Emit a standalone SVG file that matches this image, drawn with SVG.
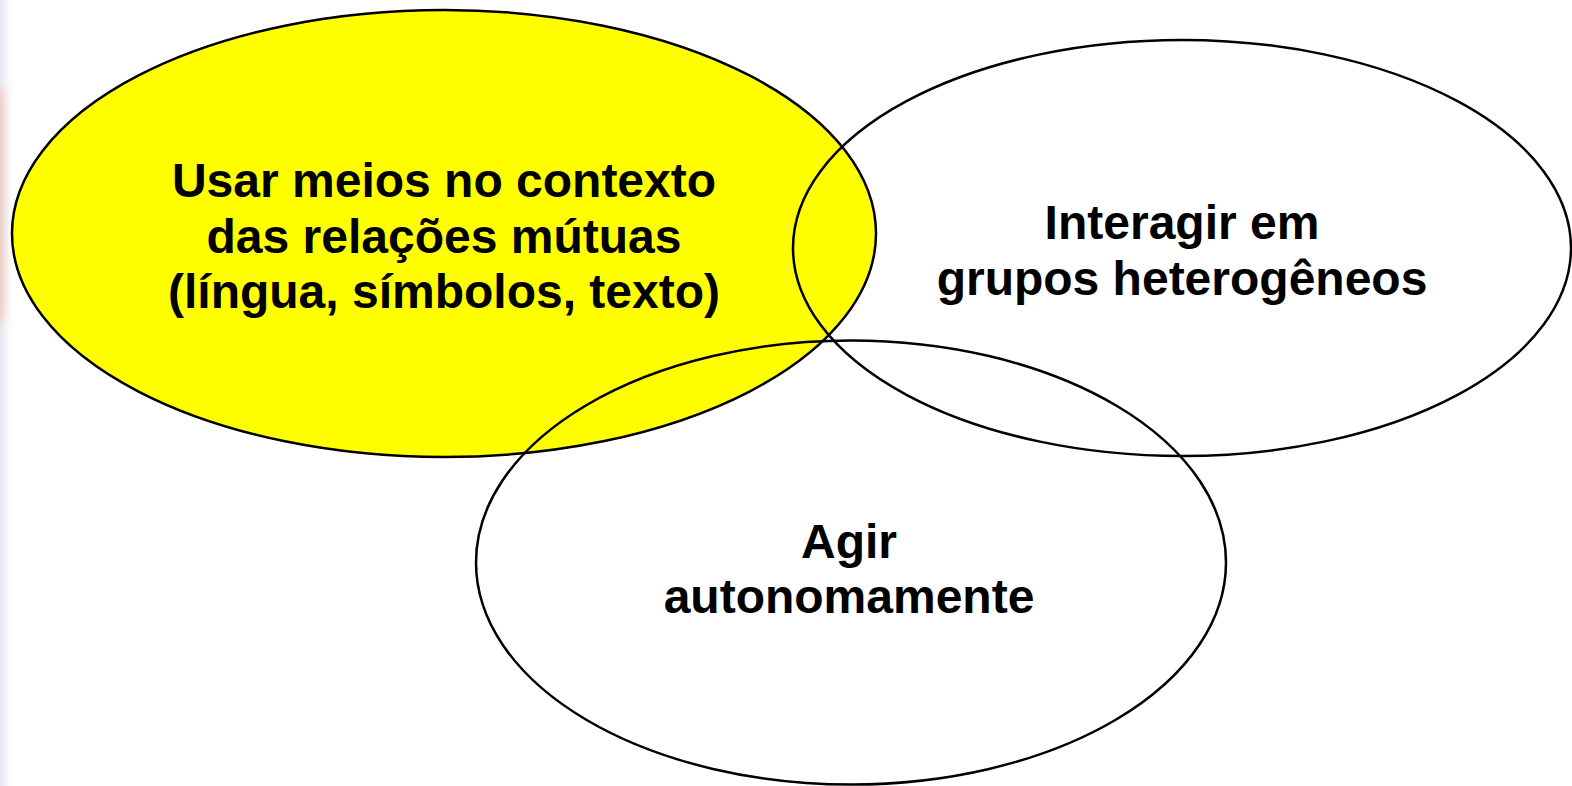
<svg xmlns="http://www.w3.org/2000/svg" width="1572" height="786" viewBox="0 0 1572 786">
  <defs>
    <linearGradient id="edge" x1="0" y1="0" x2="1" y2="0">
      <stop offset="0" stop-color="#e4e6ee" stop-opacity="1"/>
      <stop offset="1" stop-color="#ffffff" stop-opacity="0"/>
    </linearGradient>
    <filter id="soft" x="-2" y="-1" width="5" height="3">
      <feGaussianBlur stdDeviation="5"/>
    </filter>
  </defs>
  <style>
    .shape { stroke: #000000; stroke-width: 2.5; }
    .label { font-family: "Liberation Sans", Arial, sans-serif; font-weight: bold; font-size: 48px; fill: #000000; text-anchor: middle; }
  </style>
  <rect x="0" y="0" width="1572" height="786" fill="#ffffff"/>
  <rect x="0" y="0" width="16" height="786" fill="url(#edge)"/>
  <rect x="-6" y="90" width="10" height="230" fill="#f4b898" opacity="0.6" filter="url(#soft)"/>

  <g id="node-usar">
    <ellipse class="shape" cx="444" cy="233.5" rx="432" ry="223.5" fill="#ffff00"/>
  </g>
  <g id="node-interagir">
    <ellipse class="shape" cx="1182" cy="248" rx="389" ry="208" fill="none"/>
  </g>
  <g id="node-agir">
    <ellipse class="shape" cx="851" cy="562.5" rx="375" ry="222" fill="none"/>
  </g>

  <g id="labels">
    <text class="label" x="444" y="197">Usar meios no contexto</text>
    <text class="label" x="444" y="253">das relações mútuas</text>
    <text class="label" x="444" y="308">(língua, símbolos, texto)</text>
    <text class="label" x="1182" y="239">Interagir em</text>
    <text class="label" x="1182" y="295">grupos heterogêneos</text>
    <text class="label" x="849" y="558">Agir</text>
    <text class="label" x="849" y="613">autonomamente</text>
  </g>
  <g id="connectors"></g>
</svg>
